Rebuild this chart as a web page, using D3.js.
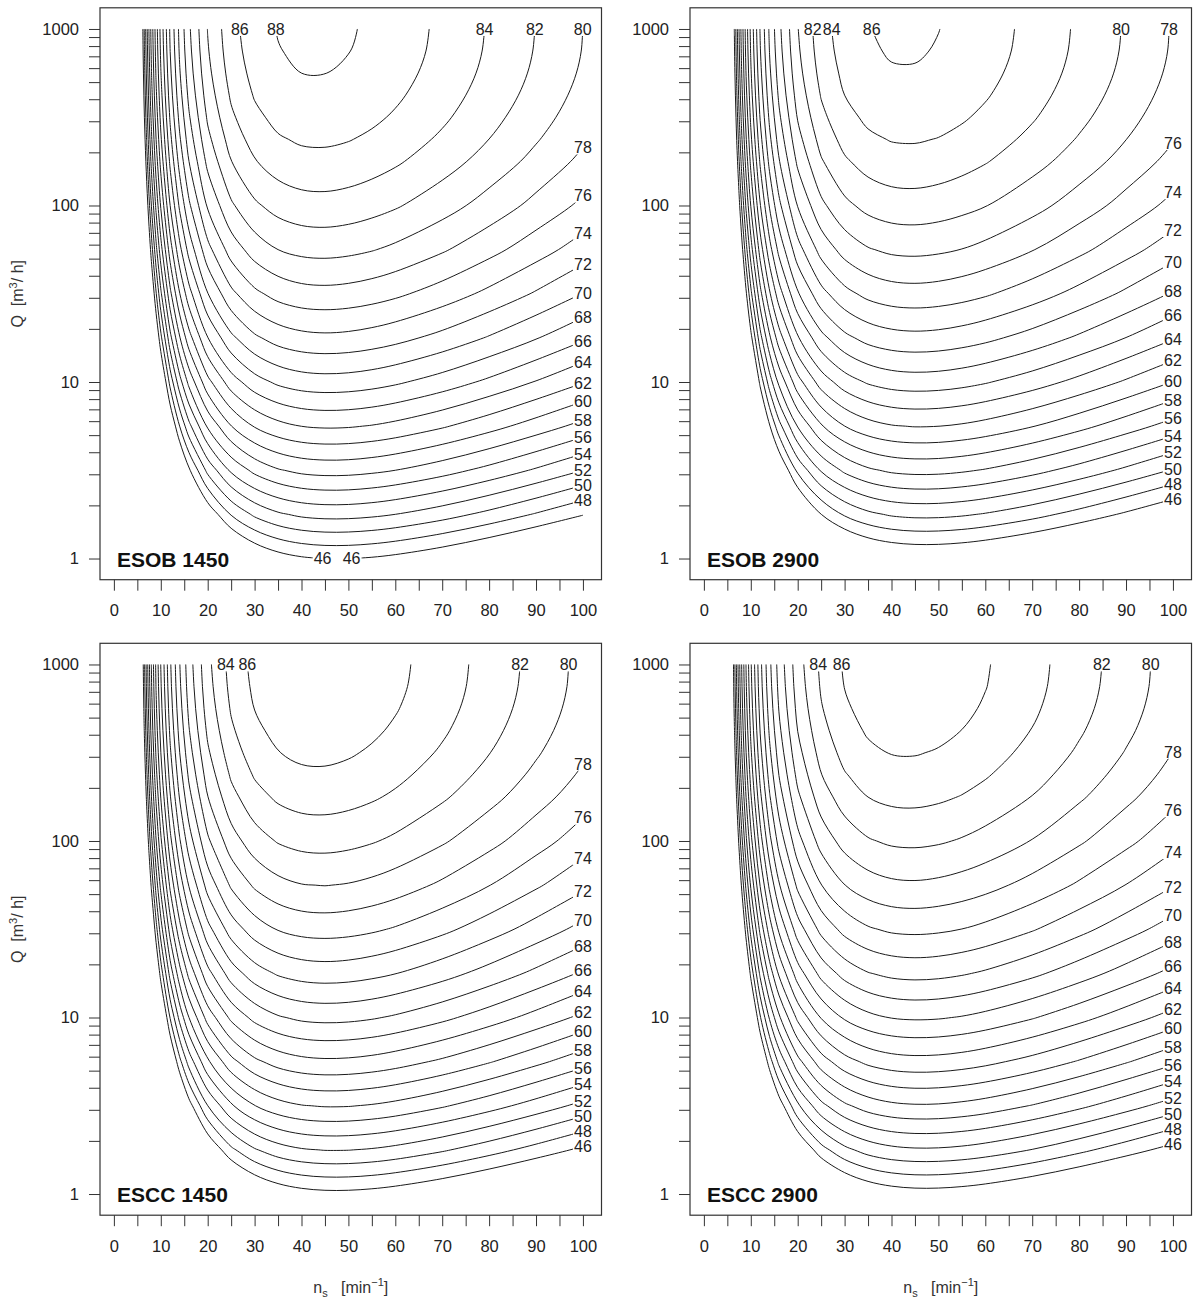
<!DOCTYPE html>
<html>
<head>
<meta charset="utf-8">
<script src="https://cdn.jsdelivr.net/npm/d3@7"></script>
<style>
  body { margin: 0; background: #fff; }
  svg { display: block; }
  text { font-family: "Liberation Sans", Arial, Helvetica, sans-serif; }
</style>
</head>
<body>
<svg id="chart" width="1197" height="1304"></svg>
<script>
// ---- grid nodes (specific speed n_s, and log10 of Q [m3/h]) ----
const nsNodes = [6, 6.5, 7, 7.5, 8, 9, 10, 12, 14, 16, 20, 25, 30, 35, 40, 45, 50, 55, 60, 70, 80, 90, 100];
const logQNodes = [0, 0.25, 0.5, 0.75, 1, 1.25, 1.5, 1.75, 2, 2.25, 2.375, 2.5, 2.625, 2.75, 2.875, 3];

// ---- contour levels (efficiency, %) ----
const contourLevels = [46, 48, 50, 52, 54, 56, 58, 60, 62, 64, 66, 68, 70, 72, 74, 76, 78, 80, 82, 84, 86, 88];

// ---- axis ticks ----
const xTickValues = [0, 5, 10, 15, 20, 25, 30, 35, 40, 45, 50, 55, 60, 65, 70, 75, 80, 85, 90, 95, 100];
const xTickLabels = [0, 10, 20, 30, 40, 50, 60, 70, 80, 90, 100];
const yTickValues = [1, 2, 3, 4, 5, 6, 7, 8, 9, 10, 20, 30, 40, 50, 60, 70, 80, 90, 100, 200, 300, 400, 500, 600, 700, 800, 900, 1000];
const yTickLabels = [1, 10, 100, 1000];

// ---- efficiency grids: rows = logQNodes (Q = 1 ... 1000), columns = nsNodes ----
const effESOB1450 = [
  [-2.97,0.75,4.07,7.04,9.73,14.38,18.27,24.40,28.99,32.52,37.52,41.36,43.66,45.01,45.73,46.03,46.03,45.81,45.42,44.31,42.91,41.34,39.66],
  [4.10,7.81,11.11,14.07,16.74,21.37,25.23,31.32,35.88,39.38,44.33,48.13,50.38,51.69,52.39,52.66,52.64,52.40,51.99,50.85,49.42,47.82,46.12],
  [10.61,14.30,17.59,20.53,23.19,27.79,31.63,37.68,42.21,45.68,50.57,54.33,56.54,57.82,58.49,58.73,58.69,58.42,58.00,56.82,55.37,53.74,52.01],
  [16.56,20.23,23.50,26.43,29.07,33.65,37.47,43.48,47.97,51.41,56.26,59.96,62.14,63.38,64.02,64.24,64.17,63.89,63.44,62.24,60.75,59.09,57.35],
  [21.94,25.60,28.85,31.77,34.39,38.94,42.74,48.71,53.17,56.58,61.38,65.03,67.17,68.38,68.99,69.18,69.09,68.79,68.32,67.08,65.57,63.89,62.12],
  [26.77,30.40,33.64,36.54,39.15,43.68,47.45,53.38,57.80,61.19,65.94,69.54,71.64,72.82,73.39,73.57,73.45,73.12,72.64,71.37,69.82,68.12,66.32],
  [31.02,34.64,37.86,40.75,43.35,47.84,51.60,57.49,61.88,65.23,69.93,73.49,75.55,76.69,77.24,77.38,77.24,76.90,76.40,75.09,73.51,71.78,69.96],
  [34.72,38.32,41.52,44.39,46.98,51.45,55.18,61.03,65.39,68.71,73.36,76.87,78.89,80.00,80.52,80.64,80.47,80.11,79.59,78.24,76.64,74.88,73.04],
  [37.85,41.43,44.62,47.48,50.05,54.49,58.20,64.01,68.33,71.63,76.23,79.69,81.67,82.74,83.23,83.33,83.14,82.75,82.22,80.84,79.20,77.42,75.56],
  [40.42,43.99,47.16,50.00,52.55,56.97,60.66,66.43,70.71,73.98,78.54,81.95,83.88,84.93,85.39,85.45,85.24,84.84,84.28,82.87,81.21,79.40,77.51],
  [41.49,45.05,48.21,51.04,53.59,58.00,61.67,67.43,71.69,74.95,79.48,82.86,84.78,85.80,86.25,86.31,86.09,85.67,85.10,83.67,81.99,80.17,78.28],
  [42.42,45.97,49.13,51.95,54.49,58.89,62.55,68.28,72.53,75.77,80.28,83.64,85.54,86.54,86.98,87.02,86.79,86.36,85.78,84.34,82.64,80.81,78.90],
  [43.21,46.75,49.90,52.72,55.25,59.64,63.28,69.00,73.23,76.46,80.94,84.27,86.15,87.14,87.56,87.59,87.34,86.90,86.32,84.86,83.15,81.31,79.38],
  [43.86,47.40,50.54,53.34,55.87,60.24,63.88,69.57,73.79,77.00,81.46,84.77,86.62,87.60,88.00,88.02,87.76,87.31,86.72,85.24,83.52,81.66,79.73],
  [44.37,47.90,51.03,53.83,56.35,60.71,64.33,70.01,74.21,77.40,81.83,85.12,86.96,87.92,88.30,88.31,88.04,87.58,86.98,85.48,83.74,81.87,79.93],
  [44.74,48.26,51.38,54.17,56.69,61.03,64.64,70.30,74.48,77.67,82.07,85.33,87.15,88.09,88.47,88.46,88.18,87.71,87.09,85.58,83.83,81.95,79.99]
];
const effESOB2900 = [
  [-5.12,-1.40,1.92,4.89,7.58,12.23,16.12,22.25,26.84,30.37,35.37,39.21,41.51,42.86,43.58,43.88,43.88,43.66,43.27,42.16,40.76,39.19,37.51],
  [1.95,5.66,8.96,11.92,14.59,19.22,23.08,29.17,33.73,37.23,42.18,45.98,48.23,49.54,50.24,50.51,50.49,50.25,49.84,48.70,47.27,45.67,43.97],
  [8.46,12.15,15.44,18.38,21.04,25.64,29.48,35.53,40.06,43.53,48.42,52.18,54.39,55.67,56.34,56.58,56.54,56.27,55.85,54.67,53.22,51.59,49.86],
  [14.41,18.08,21.35,24.28,26.92,31.50,35.32,41.33,45.82,49.26,54.11,57.81,59.99,61.23,61.87,62.09,62.02,61.74,61.29,60.09,58.60,56.94,55.20],
  [19.79,23.45,26.70,29.62,32.24,36.79,40.59,46.56,51.02,54.43,59.23,62.88,65.02,66.23,66.84,67.03,66.94,66.64,66.17,64.93,63.42,61.74,59.97],
  [24.62,28.25,31.49,34.39,37.00,41.53,45.30,51.23,55.65,59.04,63.79,67.39,69.49,70.67,71.24,71.42,71.30,70.97,70.49,69.22,67.67,65.97,64.17],
  [28.87,32.49,35.71,38.60,41.20,45.69,49.45,55.34,59.73,63.08,67.78,71.34,73.40,74.54,75.09,75.23,75.09,74.75,74.25,72.94,71.36,69.63,67.81],
  [32.57,36.17,39.37,42.24,44.83,49.30,53.03,58.88,63.24,66.56,71.21,74.72,76.74,77.85,78.37,78.49,78.32,77.96,77.44,76.09,74.49,72.73,70.89],
  [35.70,39.28,42.47,45.33,47.90,52.34,56.05,61.86,66.18,69.48,74.08,77.54,79.52,80.59,81.08,81.18,80.99,80.60,80.07,78.69,77.05,75.27,73.41],
  [38.27,41.84,45.01,47.85,50.40,54.82,58.51,64.28,68.56,71.83,76.39,79.80,81.73,82.78,83.24,83.30,83.09,82.69,82.13,80.72,79.06,77.25,75.36],
  [39.34,42.90,46.06,48.89,51.44,55.85,59.52,65.28,69.54,72.80,77.33,80.71,82.63,83.65,84.10,84.16,83.94,83.52,82.95,81.52,79.84,78.02,76.13],
  [40.27,43.82,46.98,49.80,52.34,56.74,60.40,66.13,70.38,73.62,78.13,81.49,83.39,84.39,84.83,84.87,84.64,84.21,83.63,82.19,80.49,78.66,76.75],
  [41.06,44.60,47.75,50.57,53.10,57.49,61.13,66.85,71.08,74.31,78.79,82.12,84.00,84.99,85.41,85.44,85.19,84.75,84.17,82.71,81.00,79.16,77.23],
  [41.71,45.25,48.39,51.19,53.72,58.09,61.73,67.42,71.64,74.85,79.31,82.62,84.47,85.45,85.85,85.87,85.61,85.16,84.57,83.09,81.37,79.51,77.58],
  [42.22,45.75,48.88,51.68,54.20,58.56,62.18,67.86,72.06,75.25,79.68,82.97,84.81,85.77,86.15,86.16,85.89,85.43,84.83,83.33,81.59,79.72,77.78],
  [42.59,46.11,49.23,52.02,54.54,58.88,62.49,68.15,72.33,75.52,79.92,83.18,85.00,85.94,86.32,86.31,86.03,85.56,84.94,83.43,81.68,79.80,77.84]
];
const effESCC1450 = [
  [-3.56,0.16,3.48,6.45,9.14,13.79,17.68,23.81,28.40,31.93,36.93,40.77,43.07,44.42,45.14,45.44,45.44,45.22,44.83,43.72,42.32,40.75,39.07],
  [3.51,7.22,10.52,13.48,16.15,20.78,24.64,30.73,35.29,38.79,43.74,47.54,49.79,51.10,51.80,52.07,52.05,51.81,51.40,50.26,48.83,47.23,45.53],
  [10.02,13.71,17.00,19.94,22.60,27.20,31.04,37.09,41.62,45.09,49.98,53.74,55.95,57.23,57.90,58.14,58.10,57.83,57.41,56.23,54.78,53.15,51.42],
  [15.97,19.64,22.91,25.84,28.48,33.06,36.88,42.89,47.38,50.82,55.67,59.37,61.55,62.79,63.43,63.65,63.58,63.30,62.85,61.65,60.16,58.50,56.76],
  [21.35,25.01,28.26,31.18,33.80,38.35,42.15,48.12,52.58,55.99,60.79,64.44,66.58,67.79,68.40,68.59,68.50,68.20,67.73,66.49,64.98,63.30,61.53],
  [26.18,29.81,33.05,35.95,38.56,43.09,46.86,52.79,57.21,60.60,65.35,68.95,71.05,72.23,72.80,72.98,72.86,72.53,72.05,70.78,69.23,67.53,65.73],
  [30.43,34.05,37.27,40.16,42.76,47.25,51.01,56.90,61.29,64.64,69.34,72.90,74.96,76.10,76.65,76.79,76.65,76.31,75.81,74.50,72.92,71.19,69.37],
  [34.13,37.73,40.93,43.80,46.39,50.86,54.59,60.44,64.80,68.12,72.77,76.28,78.30,79.41,79.93,80.05,79.88,79.52,79.00,77.65,76.05,74.29,72.45],
  [37.26,40.84,44.03,46.89,49.46,53.90,57.61,63.42,67.74,71.04,75.64,79.10,81.08,82.15,82.64,82.74,82.55,82.16,81.63,80.25,78.61,76.83,74.97],
  [39.83,43.40,46.57,49.41,51.96,56.38,60.07,65.84,70.12,73.39,77.95,81.36,83.29,84.34,84.80,84.86,84.65,84.25,83.69,82.28,80.62,78.81,76.92],
  [40.90,44.46,47.62,50.45,53.00,57.41,61.08,66.84,71.10,74.36,78.89,82.27,84.19,85.21,85.66,85.72,85.50,85.08,84.51,83.08,81.40,79.58,77.69],
  [41.83,45.38,48.54,51.36,53.90,58.30,61.96,67.69,71.94,75.18,79.69,83.05,84.95,85.95,86.39,86.43,86.20,85.77,85.19,83.75,82.05,80.22,78.31],
  [42.62,46.16,49.31,52.13,54.66,59.05,62.69,68.41,72.64,75.87,80.35,83.68,85.56,86.55,86.97,87.00,86.75,86.31,85.73,84.27,82.56,80.72,78.79],
  [43.27,46.81,49.95,52.75,55.28,59.65,63.29,68.98,73.20,76.41,80.87,84.18,86.03,87.01,87.41,87.43,87.17,86.72,86.13,84.65,82.93,81.07,79.14],
  [43.78,47.31,50.44,53.24,55.76,60.12,63.74,69.42,73.62,76.81,81.24,84.53,86.37,87.33,87.71,87.72,87.45,86.99,86.39,84.89,83.15,81.28,79.34],
  [44.15,47.67,50.79,53.58,56.10,60.44,64.05,69.71,73.89,77.08,81.48,84.74,86.56,87.50,87.88,87.87,87.59,87.12,86.50,84.99,83.24,81.36,79.40]
];
const effESCC2900 = [
  [-3.89,-0.17,3.15,6.12,8.81,13.46,17.35,23.48,28.07,31.60,36.60,40.44,42.74,44.09,44.81,45.11,45.11,44.89,44.50,43.39,41.99,40.42,38.74],
  [3.18,6.89,10.19,13.15,15.82,20.45,24.31,30.40,34.96,38.46,43.41,47.21,49.46,50.77,51.47,51.74,51.72,51.48,51.07,49.93,48.50,46.90,45.20],
  [9.69,13.38,16.67,19.61,22.27,26.87,30.71,36.76,41.29,44.76,49.65,53.41,55.62,56.90,57.57,57.81,57.77,57.50,57.08,55.90,54.45,52.82,51.09],
  [15.64,19.31,22.58,25.51,28.15,32.73,36.55,42.56,47.05,50.49,55.34,59.04,61.22,62.46,63.10,63.32,63.25,62.97,62.52,61.32,59.83,58.17,56.43],
  [21.02,24.68,27.93,30.85,33.47,38.02,41.82,47.79,52.25,55.66,60.46,64.11,66.25,67.46,68.07,68.26,68.17,67.87,67.40,66.16,64.65,62.97,61.20],
  [25.85,29.48,32.72,35.62,38.23,42.76,46.53,52.46,56.88,60.27,65.02,68.62,70.72,71.90,72.47,72.65,72.53,72.20,71.72,70.45,68.90,67.20,65.40],
  [30.10,33.72,36.94,39.83,42.43,46.92,50.68,56.57,60.96,64.31,69.01,72.57,74.63,75.77,76.32,76.46,76.32,75.98,75.48,74.17,72.59,70.86,69.04],
  [33.80,37.40,40.60,43.47,46.06,50.53,54.26,60.11,64.47,67.79,72.44,75.95,77.97,79.08,79.60,79.72,79.55,79.19,78.67,77.32,75.72,73.96,72.12],
  [36.93,40.51,43.70,46.56,49.13,53.57,57.28,63.09,67.41,70.71,75.31,78.77,80.75,81.82,82.31,82.41,82.22,81.83,81.30,79.92,78.28,76.50,74.64],
  [39.50,43.07,46.24,49.08,51.63,56.05,59.74,65.51,69.79,73.06,77.62,81.03,82.96,84.01,84.47,84.53,84.32,83.92,83.36,81.95,80.29,78.48,76.59],
  [40.57,44.13,47.29,50.12,52.67,57.08,60.75,66.51,70.77,74.03,78.56,81.94,83.86,84.88,85.33,85.39,85.17,84.75,84.18,82.75,81.07,79.25,77.36],
  [41.50,45.05,48.21,51.03,53.57,57.97,61.63,67.36,71.61,74.85,79.36,82.72,84.62,85.62,86.06,86.10,85.87,85.44,84.86,83.42,81.72,79.89,77.98],
  [42.29,45.83,48.98,51.80,54.33,58.72,62.36,68.08,72.31,75.54,80.02,83.35,85.23,86.22,86.64,86.67,86.42,85.98,85.40,83.94,82.23,80.39,78.46],
  [42.94,46.48,49.62,52.42,54.95,59.32,62.96,68.65,72.87,76.08,80.54,83.85,85.70,86.68,87.08,87.10,86.84,86.39,85.80,84.32,82.60,80.74,78.81],
  [43.45,46.98,50.11,52.91,55.43,59.79,63.41,69.09,73.29,76.48,80.91,84.20,86.04,87.00,87.38,87.39,87.12,86.66,86.06,84.56,82.82,80.95,79.01],
  [43.82,47.34,50.46,53.25,55.77,60.11,63.72,69.38,73.56,76.75,81.15,84.41,86.23,87.17,87.55,87.54,87.26,86.79,86.17,84.66,82.91,81.03,79.07]
];

// ---- which end of each contour carries its label (R = right edge, TR/TL = top right/left end, B = bottom ends) ----
const labelsESOB1450 = [[46,"B"],[48,"R"],[50,"R"],[52,"R"],[54,"R"],[56,"R"],[58,"R"],[60,"R"],[62,"R"],[64,"R"],[66,"R"],[68,"R"],[70,"R"],[72,"R"],[74,"R"],[76,"R"],[78,"R"],[80,"TR"],[82,"TR"],[84,"TR"],[86,"TL"],[88,"TL"]];
const labelsESOB2900 = [[46,"R"],[48,"R"],[50,"R"],[52,"R"],[54,"R"],[56,"R"],[58,"R"],[60,"R"],[62,"R"],[64,"R"],[66,"R"],[68,"R"],[70,"R"],[72,"R"],[74,"R"],[76,"R"],[78,"TR"],[80,"TR"],[82,"TL"],[84,"TL"],[86,"TL"]];
const labelsESCC1450 = [[46,"R"],[48,"R"],[50,"R"],[52,"R"],[54,"R"],[56,"R"],[58,"R"],[60,"R"],[62,"R"],[64,"R"],[66,"R"],[68,"R"],[70,"R"],[72,"R"],[74,"R"],[76,"R"],[78,"R"],[80,"TR"],[82,"TR"],[84,"TL"],[86,"TL"]];
const labelsESCC2900 = [[46,"R"],[48,"R"],[50,"R"],[52,"R"],[54,"R"],[56,"R"],[58,"R"],[60,"R"],[62,"R"],[64,"R"],[66,"R"],[68,"R"],[70,"R"],[72,"R"],[74,"R"],[76,"R"],[78,"R"],[80,"TR"],[82,"TR"],[84,"TL"],[86,"TL"]];

const panelNames = ["ESOB 1450", "ESOB 2900", "ESCC 1450", "ESCC 2900"];

// ---------------- drawing ----------------
const svg = d3.select("#chart");
const defs = svg.append("defs");
const W = 1197, H = 1304;
svg.append("rect").attr("width", W).attr("height", H).attr("fill", "#fff");

const boxLeft = [100, 690], boxW = 501.5;
const boxTop = [7.8, 643.3], boxH = 571.9;

const panels = [
  { name: panelNames[0], grid: effESOB1450, labels: labelsESOB1450, col: 0, row: 0 },
  { name: panelNames[1], grid: effESOB2900, labels: labelsESOB2900, col: 1, row: 0 },
  { name: panelNames[2], grid: effESCC1450, labels: labelsESCC1450, col: 0, row: 1 },
  { name: panelNames[3], grid: effESCC2900, labels: labelsESCC2900, col: 1, row: 1 }
];

function nodeAt(nodes, t) {
  const n = nodes.length;
  let i = Math.floor(t);
  if (i < 0) i = 0;
  if (i > n - 2) i = n - 2;
  const f = t - i;
  return nodes[i] + f * (nodes[i + 1] - nodes[i]);
}

// open isolines (ns, log10 Q) for one level, boundary runs of the d3 rings removed
function isolines(grid, level) {
  const nx = nsNodes.length, ny = logQNodes.length;
  const values = grid.flat();
  const mp = d3.contours().size([nx, ny]).thresholds([level])(values)[0];
  const lines = [];
  const isB = p => p[0] <= 0 || p[0] >= nx || p[1] <= 0 || p[1] >= ny;
  for (const poly of mp.coordinates) {
    for (const ring of poly) {
      const pts = ring.slice(0, -1);
      const start = pts.findIndex(isB);
      if (start < 0) { lines.push(pts.concat([pts[0]])); continue; }
      let cur = [];
      for (let k = 1; k <= pts.length; k++) {
        const p = pts[(start + k) % pts.length];
        if (isB(p)) { if (cur.length > 1) lines.push(cur); cur = []; }
        else cur.push(p);
      }
      if (cur.length > 1) lines.push(cur);
    }
  }
  return lines.map(l => l.map(([gx, gy]) => [nodeAt(nsNodes, gx - 0.5), nodeAt(logQNodes, gy - 0.5)]));
}

// drop points that sit too close to their neighbour (keeps both ends)
function thinPoints(px, minDist) {
  if (px.length <= 2) return px;
  const out = [px[0]];
  for (let i = 1; i < px.length - 1; i++) {
    const last = out[out.length - 1];
    if (Math.hypot(px[i][0] - last[0], px[i][1] - last[1]) >= minDist) out.push(px[i]);
  }
  const end = px[px.length - 1];
  const last = out[out.length - 1];
  if (out.length > 1 && Math.hypot(end[0] - last[0], end[1] - last[1]) < minDist) out.pop();
  out.push(end);
  return out;
}

const lineGen = d3.line().curve(d3.curveCatmullRom.alpha(0.5));
const fontAxis = 16.5;

panels.forEach((p, pi) => {
  const x0 = boxLeft[p.col], y0 = boxTop[p.row];
  const x = d3.scaleLinear().domain([-2.96, 103.96]).range([x0, x0 + boxW]);
  const y = d3.scaleLog().domain([Math.pow(10, -0.12), Math.pow(10, 3.12)]).range([y0 + boxH, y0]);
  const g = svg.append("g");

  const clipId = "clip" + pi;
  defs.append("clipPath").attr("id", clipId)
    .append("rect").attr("x", x0).attr("y", y0).attr("width", boxW).attr("height", boxH);

  const lineLayer = g.append("g").attr("clip-path", `url(#${clipId})`);
  const labelLayer = g.append("g");

  contourLevels.forEach(level => {
    const polys = isolines(p.grid, level);
    if (!polys.length) return;
    const ends = [];
    polys.forEach(pl => { ends.push(pl[0], pl[pl.length - 1]); });
    const anchors = [];
    p.labels.filter(l => l[0] === level).forEach(([lv, where]) => {
      if (where === "R") ends.filter(e => e[0] > 99.9).forEach(e => anchors.push(e));
      if (where === "B") ends.filter(e => e[1] < 0.001).forEach(e => anchors.push(e));
      if (where === "TL" || where === "TR") {
        const tops = ends.filter(e => e[1] > 2.999).sort((a, b) => a[0] - b[0]);
        if (tops.length) anchors.push(where === "TL" ? tops[0] : tops[tops.length - 1]);
      }
    });
    let maskAttr = null;
    if (anchors.length) {
      const mid = `m${pi}_${level}`;
      const mask = defs.append("mask").attr("id", mid).attr("maskUnits", "userSpaceOnUse")
        .attr("x", 0).attr("y", 0).attr("width", W).attr("height", H);
      mask.append("rect").attr("width", W).attr("height", H).attr("fill", "#fff");
      anchors.forEach(a => {
        const ax = x(a[0]), ay = y(Math.pow(10, a[1]));
        mask.append("rect").attr("x", ax - 10).attr("y", ay - 7).attr("width", 20).attr("height", 14).attr("fill", "#000");
        labelLayer.append("text")
          .attr("x", ax).attr("y", ay)
          .attr("dy", "0.36em")
          .attr("text-anchor", "middle")
          .attr("font-size", 16)
          .attr("fill", "#222")
          .text(level);
      });
      maskAttr = `url(#${mid})`;
    }
    const lvlG = lineLayer.append("g");
    if (maskAttr) lvlG.attr("mask", maskAttr);
    polys.forEach(pl => {
      const raw = pl.map(([ns, u]) => [x(ns), y(Math.pow(10, u))]);
      const px = thinPoints(raw, 4);
      if (px.length < 2) return;
      lvlG.append("path")
        .attr("d", lineGen(px))
        .attr("fill", "none")
        .attr("stroke", "#1a1a1a")
        .attr("stroke-width", 1);
    });
  });

  // box
  g.append("rect").attr("x", x0).attr("y", y0).attr("width", boxW).attr("height", boxH)
    .attr("fill", "none").attr("stroke", "#333").attr("stroke-width", 1.2);

  // x axis
  const xAxis = d3.axisBottom(x).tickValues(xTickValues).tickSize(11).tickPadding(14)
    .tickFormat(d => xTickLabels.includes(d) ? String(d) : "");
  const gx = g.append("g").attr("transform", `translate(0,${y0 + boxH})`).call(xAxis);
  gx.select(".domain").remove();
  gx.selectAll(".tick line").attr("stroke", "#333");
  gx.selectAll(".tick text").attr("font-size", fontAxis).attr("fill", "#222")
    .attr("font-family", '"Liberation Sans", Arial, sans-serif');

  // y axis
  const yAxis = d3.axisLeft(y).tickValues(yTickValues).tickSize(11).tickPadding(10)
    .tickFormat(d => yTickLabels.includes(d) ? String(d) : "");
  const gy = g.append("g").attr("transform", `translate(${x0},0)`).call(yAxis);
  gy.select(".domain").remove();
  gy.selectAll(".tick line").attr("stroke", "#333");
  gy.selectAll(".tick text").attr("font-size", fontAxis).attr("fill", "#222")
    .attr("font-family", '"Liberation Sans", Arial, sans-serif');

  // panel name
  g.append("text").attr("x", x0 + 17).attr("y", y(1) + 8)
    .attr("font-size", 21).attr("font-weight", "bold").attr("fill", "#111")
    .text(p.name);

  // y title on left column
  if (p.col === 0) {
    const cy = y0 + boxH / 2;
    const t = g.append("text")
      .attr("transform", `translate(23,${cy}) rotate(-90)`)
      .attr("text-anchor", "middle")
      .attr("font-size", 16).attr("fill", "#333")
      .attr("xml:space", "preserve");
    t.append("tspan").text("Q  [m");
    t.append("tspan").attr("font-size", 11).attr("dy", -6).text("3");
    t.append("tspan").attr("dy", 6).text("/ h]");
  }
  // x title on bottom row
  if (p.row === 1) {
    const cx = x0 + boxW / 2;
    const t = g.append("text")
      .attr("x", cx).attr("y", y0 + boxH + 78)
      .attr("text-anchor", "middle")
      .attr("font-size", 16).attr("fill", "#333")
      .attr("xml:space", "preserve");
    t.append("tspan").text("n");
    t.append("tspan").attr("font-size", 11).attr("dy", 4).text("s");
    t.append("tspan").attr("dy", -4).text("   [min");
    t.append("tspan").attr("font-size", 11).attr("dy", -7).text("\u22121");
    t.append("tspan").attr("dy", 7).text("]");
  }
});
</script>
</body>
</html>
